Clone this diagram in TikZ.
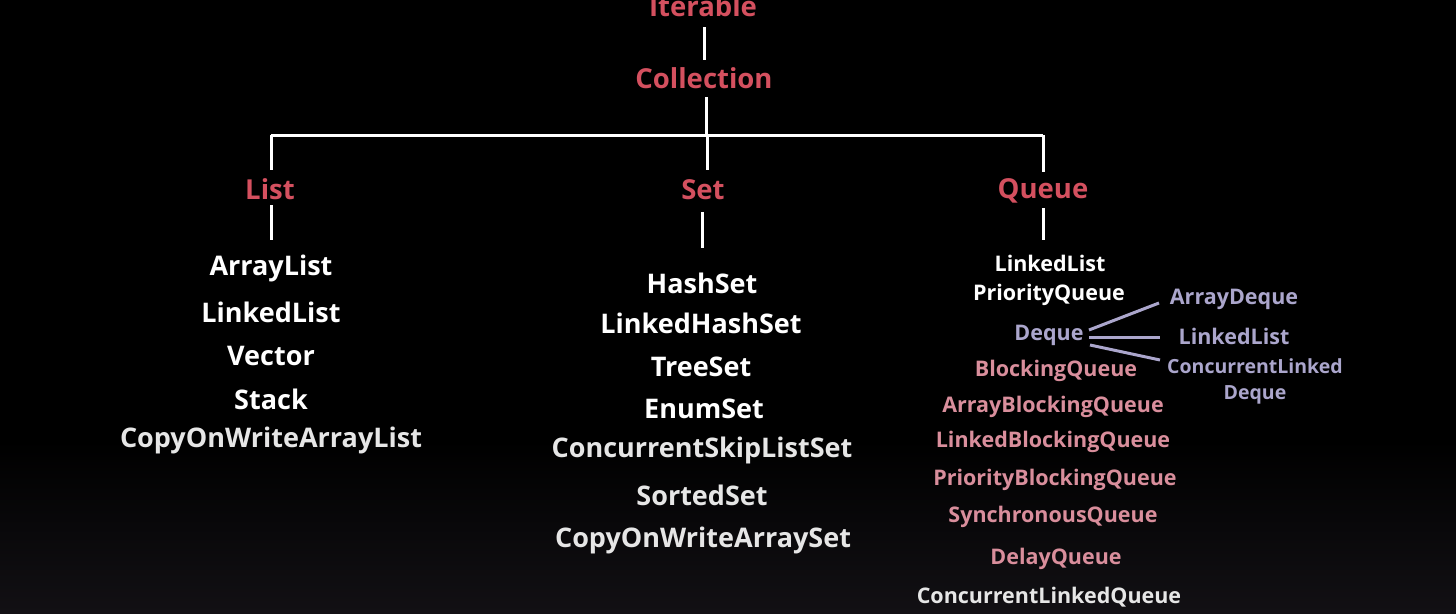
\documentclass[tikz,border=0pt]{standalone}
\usepackage{fontspec}
\setmainfont{Open Sans}[UprightFont=* Bold]
\definecolor{hdr}{HTML}{D4505F}
\definecolor{lav}{HTML}{ABA6CC}
\definecolor{pnk}{HTML}{D98E9C}
\definecolor{lgray}{HTML}{E6E6E6}
\definecolor{glow}{HTML}{121014}
\tikzset{
  head/.style={text=hdr,font=\fontsize{27.5}{32}\selectfont,inner sep=0pt,anchor=center},
  item/.style={text=white,font=\fontsize{27}{32}\selectfont,inner sep=0pt},
  qitem/.style={text=white,font=\fontsize{21.5}{25}\selectfont,inner sep=0pt},
  link/.style={draw=white,line width=3pt},
  dlink/.style={draw=lav,line width=3pt},
}
\begin{document}
\begin{tikzpicture}[x=1pt,y=-1pt]
\useasboundingbox (0,0) rectangle (1456,613);
\fill[black] (0,0) rectangle (1456,613);
\shade[top color=black,bottom color=glow] (0,440) rectangle (1456,613);
% headers
\node[head] (iter) at (703,6) {Iterable};
\node[head] (coll) at (704,78) {Collection};
\node[head] (list) at (270,189) {List};
\node[head] (set) at (703,190) {Set};
\node[head] (queue) at (1043,191) {Queue};
% tree lines
\coordinate (i1) at (704,27); \coordinate (i2) at (704,60);
\draw[link] (i1) -- (i2);
\coordinate (c1) at (706,97); \coordinate (cj) at (706,135);
\draw[link] (c1) -- (cj);
\coordinate (hl) at (271,135); \coordinate (hr) at (1043,135);
\draw[link] (hl) -- (hr);
\coordinate (ld) at (271,170); \coordinate (sd) at (707,135); \coordinate (sd2) at (707,170); \coordinate (qd) at (1043,172);
\draw[link] (hl) -- (ld);
\draw[link] (sd) -- (sd2);
\draw[link] (hr) -- (qd);
\coordinate (l1) at (271,205); \coordinate (l2) at (271,240);
\draw[link] (l1) -- (l2);
\coordinate (s1) at (702,212); \coordinate (s2) at (702,248);
\draw[link] (s1) -- (s2);
\coordinate (q1) at (1043,208); \coordinate (q2) at (1043,240);
\draw[link] (q1) -- (q2);
% list items
\node[item] (al) at (271,268) {ArrayList};
\node[item] (ll) at (271,312) {LinkedList};
\node[item] (vec) at (271,356) {Vector};
\node[item] (stk) at (271,399) {Stack};
\node[item,text=lgray] (cowal) at (271,440) {CopyOnWriteArrayList};
% set items
\node[item] (hs) at (702,283) {HashSet};
\node[item] (lhs) at (701,323) {LinkedHashSet};
\node[item] (ts) at (701,367) {TreeSet};
\node[item] (es) at (704,409) {EnumSet};
\node[item,text=lgray] (csls) at (702,450) {ConcurrentSkipListSet};
\node[item,text=lgray] (ss) at (702,495) {SortedSet};
\node[item,text=lgray] (cowas) at (703,540) {CopyOnWriteArraySet};
% queue items
\node[qitem] (qll) at (1050,263) {LinkedList};
\node[qitem] (pq) at (1049,295) {PriorityQueue};
\node[qitem,text=lav] (dq) at (1049,335) {Deque};
\node[qitem,text=pnk] (bq) at (1056,371) {BlockingQueue};
\node[qitem,text=pnk] (abq) at (1053,407) {ArrayBlockingQueue};
\node[qitem,text=pnk] (lbq) at (1053,442) {LinkedBlockingQueue};
\node[qitem,text=pnk] (pbq) at (1055,480) {PriorityBlockingQueue};
\node[qitem,text=pnk] (sq) at (1053,517) {SynchronousQueue};
\node[qitem,text=pnk] (dlq) at (1056,559) {DelayQueue};
\node[qitem,text=lgray] (clq) at (1049,597) {ConcurrentLinkedQueue};
% deque children
\node[qitem,text=lav] (ad) at (1234,299) {ArrayDeque};
\node[qitem,text=lav] (dll) at (1234,336) {LinkedList};
\node[qitem,text=lav,align=center,font=\fontsize{19.5}{26}\selectfont] (cld) at (1255,381) {ConcurrentLinked\\Deque};
\coordinate (d1) at (1089,330); \coordinate (d1e) at (1159,303);
\coordinate (d2) at (1089,337); \coordinate (d2e) at (1160,337);
\coordinate (d3) at (1090,345); \coordinate (d3e) at (1160,360);
\draw[dlink] (d1) -- (d1e);
\draw[dlink] (d2) -- (d2e);
\draw[dlink] (d3) -- (d3e);
\end{tikzpicture}
\end{document}
